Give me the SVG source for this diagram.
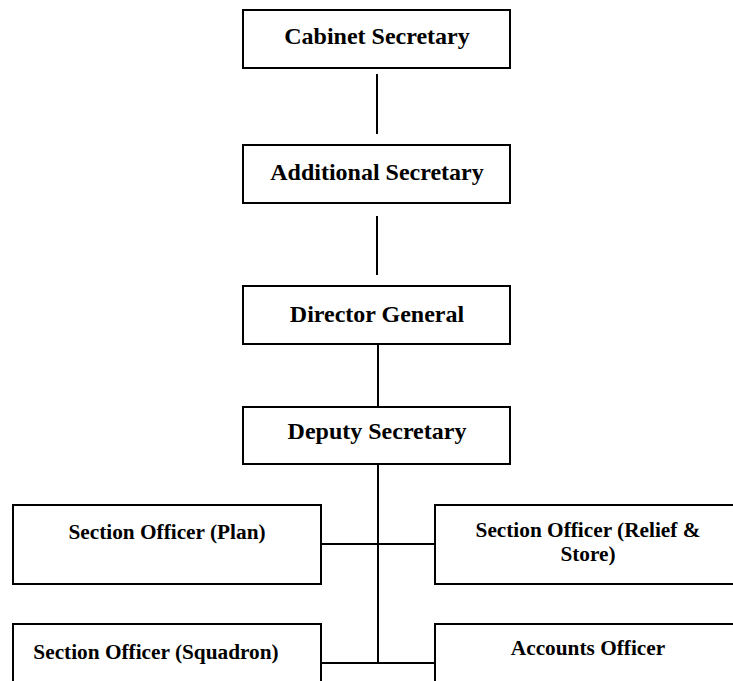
<svg xmlns="http://www.w3.org/2000/svg" width="733" height="681" viewBox="0 0 733 681">
  <style>
    .box { fill: #ffffff; stroke: #000000; stroke-width: 2; }
    .t { font-family: "Liberation Serif", "Times New Roman", serif; font-weight: bold; fill: #000000; text-anchor: middle; }
    .big { font-size: 24px; }
    .small { font-size: 21.3px; }
    .conn line { stroke: #000000; stroke-width: 2; }
  </style>
  <rect width="733" height="681" fill="#ffffff"/>
  <g id="connectors" class="conn">
    <line x1="377" y1="74" x2="377" y2="134"/>
    <line x1="377" y1="216" x2="377" y2="275"/>
    <line x1="378" y1="344" x2="378" y2="407"/>
    <line x1="378" y1="464" x2="378" y2="664"/>
    <line x1="321" y1="544" x2="435" y2="544"/>
    <line x1="321" y1="663" x2="435" y2="663"/>
  </g>
  <g id="cabinet-secretary">
    <rect class="box" x="243" y="10" width="267" height="58"/>
    <text class="t big" x="377" y="44">Cabinet Secretary</text>
  </g>
  <g id="additional-secretary">
    <rect class="box" x="243" y="145" width="267" height="58"/>
    <text class="t big" x="377" y="180">Additional Secretary</text>
  </g>
  <g id="director-general">
    <rect class="box" x="243" y="286" width="267" height="58"/>
    <text class="t big" x="377" y="322">Director General</text>
  </g>
  <g id="deputy-secretary">
    <rect class="box" x="243" y="407" width="267" height="57"/>
    <text class="t big" x="377" y="439">Deputy Secretary</text>
  </g>
  <g id="so-plan">
    <rect class="box" x="13" y="505" width="308" height="79"/>
    <text class="t small" x="167" y="539">Section Officer (Plan)</text>
  </g>
  <g id="so-relief-store">
    <rect class="box" x="435" y="505" width="308" height="79"/>
    <text class="t small" x="588" y="537">Section Officer (Relief &amp;</text>
    <text class="t small" x="588" y="561">Store)</text>
  </g>
  <g id="so-squadron">
    <rect class="box" x="13" y="624" width="308" height="80"/>
    <text class="t small" x="156" y="659">Section Officer (Squadron)</text>
  </g>
  <g id="accounts-officer">
    <rect class="box" x="435" y="624" width="308" height="80"/>
    <text class="t small" x="588" y="655">Accounts Officer</text>
  </g>
</svg>
